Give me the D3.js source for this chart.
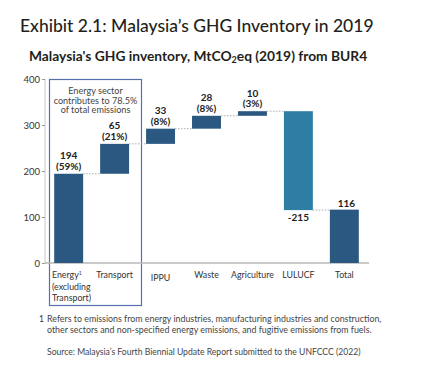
<!DOCTYPE html>
<html>
<head>
<meta charset="utf-8">
<script src="https://cdn.jsdelivr.net/npm/d3@7"></script>
<style>
  body { margin: 0; background: #fff; }
  svg { display: block; font-family: Lato, "Noto Sans", sans-serif; }
</style>
</head>
<body>
<div id="chart"></div>
<script>
// Données du graphique (cascade)
const categories = ['Energy', 'Transport', 'IPPU', 'Waste', 'Agriculture', 'LULUCF', 'Total'];
const values = [194, 65, 33, 28, 10, -215, 116];
const shares = ['(59%)', '(21%)', '(8%)', '(8%)', '(3%)', null, null];
const yTicks = [0, 100, 200, 300, 400];

const width = 439, height = 370;
const svg = d3.select('#chart').append('svg')
  .attr('width', width)
  .attr('height', height);

// Titres
svg.append('text')
  .attr('x', 20).attr('y', 32)
  .style('font-size', '17.5px')
  .style('font-weight', 500)
  .style('fill', '#231f20')
  .text('Exhibit 2.1: Malaysia’s GHG Inventory in 2019');

const sub = svg.append('text')
  .attr('x', 29).attr('y', 61)
  .style('font-size', '13.8px')
  .style('font-weight', 'bold')
  .style('fill', '#231f20');
sub.append('tspan').text('Malaysia\'s GHG inventory, MtCO');
sub.append('tspan').attr('dy', 2).style('font-size', '9px').text('2');
sub.append('tspan').attr('dy', -2).text('eq (2019) from BUR4');

// Calcul des débuts/fins de chaque barre
let cum = 0;
const bars = categories.map((c, i) => {
  const v = values[i];
  let start, end;
  if (c === 'Total') { start = 0; end = v; }
  else { start = cum; end = cum + v; cum = end; }
  return { cat: c, value: v, share: shares[i], start, end };
});

const x = d3.scaleBand()
  .domain(categories)
  .range([45, 368])
  .paddingInner(0.37)
  .paddingOuter(0.2);

const y = d3.scaleLinear()
  .domain([0, 400])
  .range([263, 79]);

// Axe Y
svg.append('line')
  .attr('x1', 45).attr('x2', 45)
  .attr('y1', y(400)).attr('y2', y(0))
  .style('stroke', '#c8c8c8').style('stroke-width', 1);

const yAxis = svg.append('g')
  .attr('transform', 'translate(45,0)')
  .call(d3.axisLeft(y).tickValues(yTicks).tickSize(3).tickPadding(2));
yAxis.select('.domain').remove();
yAxis.selectAll('line').style('stroke', '#999');
yAxis.selectAll('text')
  .style('font-size', '9.5px')
  .style('font-family', 'Lato, sans-serif')
  .style('fill', '#333');

// Boîte du secteur énergie
svg.append('rect')
  .attr('x', 49.5).attr('y', 79.5)
  .attr('width', 92).attr('height', 226)
  .style('fill', 'none')
  .style('stroke', '#5670ad')
  .style('stroke-width', 1.2);

const boxText = ['Energy sector', 'contributes to 78.5%', 'of total emissions'];
svg.append('g').selectAll('text')
  .data(boxText)
  .enter().append('text')
  .attr('x', 95.5)
  .attr('y', (d, i) => 94 + i * 9.5)
  .style('font-size', '9.1px')
  .style('fill', '#444')
  .style('text-anchor', 'middle')
  .text(d => d);

// Ligne de base
svg.append('line')
  .attr('x1', 45).attr('x2', 369)
  .attr('y1', y(0)).attr('y2', y(0))
  .style('stroke', '#b8b8b8').style('stroke-width', 1.5);

// Connecteurs pointillés
const conn = [];
for (let i = 0; i < bars.length - 1; i++) {
  conn.push({ a: bars[i], b: bars[i + 1], level: bars[i].end });
}
svg.append('g').selectAll('line')
  .data(conn)
  .enter().append('line')
  .attr('x1', d => x(d.a.cat) + x.bandwidth())
  .attr('x2', d => x(d.b.cat))
  .attr('y1', d => y(d.level))
  .attr('y2', d => y(d.level))
  .style('stroke', '#aaa')
  .style('stroke-width', 1)
  .style('stroke-dasharray', '1.5,1.5');

// Barres
svg.append('g').selectAll('rect')
  .data(bars)
  .enter().append('rect')
  .attr('x', d => x(d.cat))
  .attr('width', x.bandwidth())
  .attr('y', d => y(Math.max(d.start, d.end)))
  .attr('height', d => Math.abs(y(d.start) - y(d.end)))
  .style('fill', d => d.cat === 'LULUCF' ? '#2e7ea3' : '#2a5881');

// Étiquettes de valeurs
const labels = svg.append('g');
function valLabel(cx, yy, txt) {
  labels.append('text')
    .attr('x', cx).attr('y', yy)
    .style('font-size', '10px').style('font-weight', 'bold')
    .style('fill', '#222').style('text-anchor', 'middle')
    .text(txt);
}
bars.forEach(d => {
  const cx = x(d.cat) + x.bandwidth() / 2;
  const top = y(Math.max(d.start, d.end));
  if (d.value < 0) {
    valLabel(cx, y(d.end) + 11, d.value);
  } else if (d.share) {
    valLabel(cx, top - 14.5, d.value);
    valLabel(cx, top - 4, d.share);
  } else {
    valLabel(cx + 2, top - 3, d.value);
  }
});

// Étiquettes de catégories
const catG = svg.append('g');
bars.forEach(d => {
  const cx = x(d.cat) + x.bandwidth() / 2;
  if (d.cat === 'Energy') {
    const t = catG.append('text')
      .attr('x', 52).attr('y', 278)
      .style('font-size', '8.8px').style('fill', '#333');
    t.append('tspan').text('Energy');
    t.append('tspan').attr('dy', -3).style('font-size', '5px').text('1');
    ['(excluding', 'Transport)'].forEach((s, i) => {
      catG.append('text')
        .attr('x', 52).attr('y', 289.5 + i * 11.5)
        .style('font-size', '8.8px').style('fill', '#333')
        .text(s);
    });
  } else {
    catG.append('text')
      .attr('x', cx)
      .attr('y', d.cat === 'IPPU' ? 281 : 278)
      .style('font-size', '8.8px').style('fill', '#333')
      .style('text-anchor', 'middle')
      .text(d.cat);
  }
});

// Notes
svg.append('text')
  .attr('x', 39).attr('y', 322)
  .style('font-size', '8.5px').style('fill', '#333')
  .text('1');
['Refers to emissions from energy industries, manufacturing industries and construction,',
 'other sectors and non-specified energy emissions, and fugitive emissions from fuels.']
  .forEach((s, i) => {
    svg.append('text')
      .attr('x', 47).attr('y', 322 + i * 11)
      .style('font-size', '8.85px').style('fill', '#444')
      .text(s);
  });
svg.append('text')
  .attr('x', 47).attr('y', 355)
  .style('font-size', '8.6px').style('fill', '#444')
  .text('Source: Malaysia’s Fourth Biennial Update Report submitted to the UNFCCC (2022)');
</script>
</body>
</html>
